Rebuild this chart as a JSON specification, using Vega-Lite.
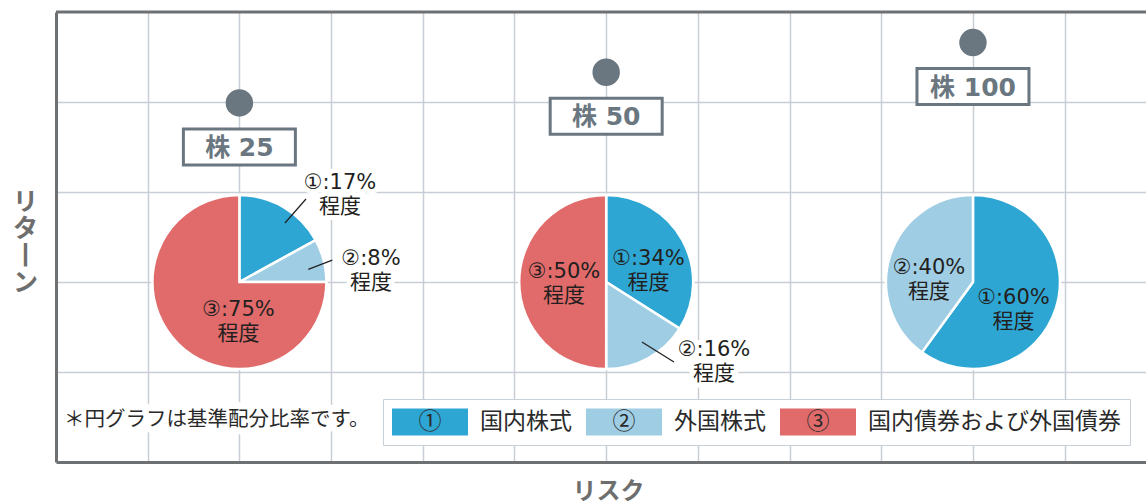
{
  "$schema": "https://vega.github.io/schema/vega-lite/v6.json",
  "width": 1090,
  "height": 450,
  "autosize": {"type": "none"},
  "padding": {"left": 56, "top": 12, "right": 0, "bottom": 40},
  "background": "white",
  "config": {"view": {"stroke": null}, "font": "Noto Sans CJK JP"},
  "datasets": {
    "portfolios": [
      {"name": "株 25", "risk": 2, "ret": 3.99},
      {"name": "株 50", "risk": 6, "ret": 4.33},
      {"name": "株 100", "risk": 10, "ret": 4.66}
    ],
    "slices": [
      {"name": "株 25", "risk": 2, "pieRet": 2, "item": "①", "pct": 17},
      {"name": "株 25", "risk": 2, "pieRet": 2, "item": "②", "pct": 8},
      {"name": "株 25", "risk": 2, "pieRet": 2, "item": "③", "pct": 75},
      {"name": "株 50", "risk": 6, "pieRet": 2, "item": "①", "pct": 34},
      {"name": "株 50", "risk": 6, "pieRet": 2, "item": "②", "pct": 16},
      {"name": "株 50", "risk": 6, "pieRet": 2, "item": "③", "pct": 50},
      {"name": "株 100", "risk": 10, "pieRet": 2, "item": "①", "pct": 60},
      {"name": "株 100", "risk": 10, "pieRet": 2, "item": "②", "pct": 40}
    ],
    "inlabels": [
      {"lx": 1.99, "ly": 1.556, "label": "③:75%\n程度"},
      {"lx": 6.461, "ly": 2.122, "label": "①:34%\n程度"},
      {"lx": 5.54, "ly": 1.978, "label": "③:50%\n程度"},
      {"lx": 9.52, "ly": 2.017, "label": "②:40%\n程度"},
      {"lx": 10.442, "ly": 1.689, "label": "①:60%\n程度"}
    ],
    "callouts": [
      {"lx": 3.097, "ly": 2.967, "label": "①:17%\n程度"},
      {"lx": 3.435, "ly": 2.117, "label": "②:8%\n程度"},
      {"lx": 7.176, "ly": 1.106, "label": "②:16%\n程度"}
    ],
    "leaders": [
      {"x1": 2.497, "y1": 2.656, "x2": 2.726, "y2": 2.922},
      {"x1": 2.751, "y1": 2.141, "x2": 3.013, "y2": 2.244},
      {"x1": 6.39, "y1": 1.333, "x2": 6.739, "y2": 1.111}
    ],
    "note": [
      {"nx": 0.087, "ny": 0.467, "text": "＊円グラフは基準配分比率です。"}
    ],
    "frame": [{"top": 5}]
  },
  "layer": [
    {
      "data": {"name": "portfolios"},
      "mark": {"type": "point", "opacity": 0},
      "encoding": {
        "x": {
          "field": "risk", "type": "quantitative",
          "scale": {"domain": [0, 11.887], "nice": false, "zero": false},
          "axis": {
            "values": [1, 2, 3, 4, 5, 6, 7, 8, 9, 10, 11],
            "grid": true, "gridColor": "#c7ced5", "gridWidth": 1.5,
            "labels": false, "ticks": false,
            "domain": true, "domainColor": "#6e7174", "domainWidth": 3,
            "title": "リスク",
            "titleX": 552, "titleY": 29, "titleAlign": "center", "titleBaseline": "middle",
            "titleFont": "Noto Sans CJK JP", "titleFontSize": 24, "titleFontWeight": "bold",
            "titleColor": "#6e6e6e"
          }
        },
        "y": {
          "field": "ret", "type": "quantitative",
          "scale": {"domain": [0, 5], "nice": false, "zero": false},
          "axis": {
            "values": [1, 2, 3, 4],
            "grid": true, "gridColor": "#c7ced5", "gridWidth": 1.5,
            "labels": false, "ticks": false,
            "domain": true, "domainColor": "#6e7174", "domainWidth": 3,
            "title": ["リ", "タ", "丨", "ン"],
            "titleAngle": 0, "titleX": -31, "titleY": 189,
            "titleAlign": "center", "titleBaseline": "middle",
            "titleLineHeight": 27,
            "titleFont": "Noto Sans CJK JP", "titleFontSize": 25, "titleFontWeight": "bold",
            "titleColor": "#6e6e6e"
          }
        }
      }
    },
    {
      "data": {"name": "frame"},
      "mark": {"type": "rule", "color": "#6e7174", "strokeWidth": 3},
      "encoding": {
        "y": {"field": "top", "type": "quantitative"}
      }
    },
    {
      "data": {"name": "slices"},
      "transform": [
        {"stack": "pct", "groupby": ["name"], "sort": [{"field": "item", "order": "ascending"}], "as": ["start", "end"]}
      ],
      "mark": {"type": "arc", "outerRadius": 87, "stroke": "white", "strokeWidth": 2.5},
      "encoding": {
        "x": {"field": "risk", "type": "quantitative"},
        "y": {"field": "pieRet", "type": "quantitative"},
        "theta": {"field": "start", "type": "quantitative", "stack": null, "scale": {"domain": [0, 100], "range": [0, 6.283185]}},
        "theta2": {"field": "end"},
        "color": {
          "field": "item", "type": "nominal",
          "scale": {"domain": ["①", "②", "③"], "range": ["#2ea6d3", "#9fcde4", "#e06b6a"]},
          "legend": {
            "orient": "none", "legendX": 327, "legendY": 387,
            "direction": "horizontal", "title": null,
            "padding": 9, "fillColor": "white", "strokeColor": "#c8d0d7",
            "symbolType": "M-1,-0.355H1V0.355H-1Z", "symbolSize": 5776, "symbolStrokeWidth": 0, "symbolOpacity": 1,
            "clipHeight": 28, "columnPadding": 14,
            "labelOffset": -49.5, "labelFont": "Noto Sans CJK JP", "labelFontSize": 23,
            "labelColor": "#2a2a2a", "labelLimit": 0, "labelBaseline": "middle",
            "labelExpr": "datum.label == '①' ? '①　\u00a0\u00a0\u00a0国内株式' : datum.label == '②' ? '②　\u00a0\u00a0\u00a0外国株式' : '③　\u00a0\u00a0\u00a0国内債券および外国債券\u00a0\u00a0'",
            "encode": {"legend": {"update": {"strokeWidth": {"value": 2}}}}
          }
        }
      }
    },
    {
      "data": {"name": "leaders"},
      "mark": {"type": "rule", "color": "#222222", "strokeWidth": 1.3},
      "encoding": {
        "x": {"field": "x1", "type": "quantitative"},
        "y": {"field": "y1", "type": "quantitative"},
        "x2": {"field": "x2"},
        "y2": {"field": "y2"}
      }
    },
    {
      "data": {"name": "callouts"},
      "mark": {"type": "text", "lineBreak": "\n", "lineHeight": 24, "fontSize": 21, "font": "DejaVu Sans, Noto Sans CJK JP", "align": "center", "baseline": "middle", "dy": -12, "stroke": "white", "strokeWidth": 10, "strokeJoin": "round", "fill": "white"},
      "encoding": {
        "x": {"field": "lx", "type": "quantitative"},
        "y": {"field": "ly", "type": "quantitative"},
        "text": {"field": "label"}
      }
    },
    {
      "data": {"name": "callouts"},
      "mark": {"type": "text", "lineBreak": "\n", "lineHeight": 24, "fontSize": 21, "font": "DejaVu Sans, Noto Sans CJK JP", "align": "center", "baseline": "middle", "dy": -12, "color": "#231f20"},
      "encoding": {
        "x": {"field": "lx", "type": "quantitative"},
        "y": {"field": "ly", "type": "quantitative"},
        "text": {"field": "label"}
      }
    },
    {
      "data": {"name": "inlabels"},
      "mark": {"type": "text", "lineBreak": "\n", "lineHeight": 24, "fontSize": 21, "font": "DejaVu Sans, Noto Sans CJK JP", "align": "center", "baseline": "middle", "dy": -12, "color": "#231f20"},
      "encoding": {
        "x": {"field": "lx", "type": "quantitative"},
        "y": {"field": "ly", "type": "quantitative"},
        "text": {"field": "label"}
      }
    },
    {
      "data": {"name": "portfolios"},
      "mark": {"type": "point", "shape": "circle", "filled": true, "size": 755, "color": "#6b7780", "opacity": 1},
      "encoding": {
        "x": {"field": "risk", "type": "quantitative"},
        "y": {"field": "ret", "type": "quantitative"}
      }
    },
    {
      "data": {"name": "portfolios"},
      "mark": {"type": "point", "shape": "M-1,-0.321H1V0.321H-1Z", "size": 12544, "filled": true, "fill": "white", "stroke": "#6b7780", "strokeWidth": 3, "opacity": 1, "yOffset": 44},
      "encoding": {
        "x": {"field": "risk", "type": "quantitative"},
        "y": {"field": "ret", "type": "quantitative"}
      }
    },
    {
      "data": {"name": "portfolios"},
      "mark": {"type": "text", "font": "DejaVu Sans, Noto Sans CJK JP", "fontSize": 25, "fontWeight": "bold", "color": "#6b7780", "align": "center", "baseline": "middle", "yOffset": 45},
      "encoding": {
        "x": {"field": "risk", "type": "quantitative"},
        "y": {"field": "ret", "type": "quantitative"},
        "text": {"field": "name"}
      }
    },
    {
      "data": {"name": "note"},
      "mark": {"type": "text", "font": "Noto Sans CJK JP", "fontSize": 20.5, "align": "left", "baseline": "middle", "stroke": "white", "strokeWidth": 14, "strokeJoin": "round", "fill": "white"},
      "encoding": {
        "x": {"field": "nx", "type": "quantitative"},
        "y": {"field": "ny", "type": "quantitative"},
        "text": {"field": "text"}
      }
    },
    {
      "data": {"name": "note"},
      "mark": {"type": "text", "font": "Noto Sans CJK JP", "fontSize": 20.5, "align": "left", "baseline": "middle", "color": "#2a2a2a"},
      "encoding": {
        "x": {"field": "nx", "type": "quantitative"},
        "y": {"field": "ny", "type": "quantitative"},
        "text": {"field": "text"}
      }
    }
  ]
}
